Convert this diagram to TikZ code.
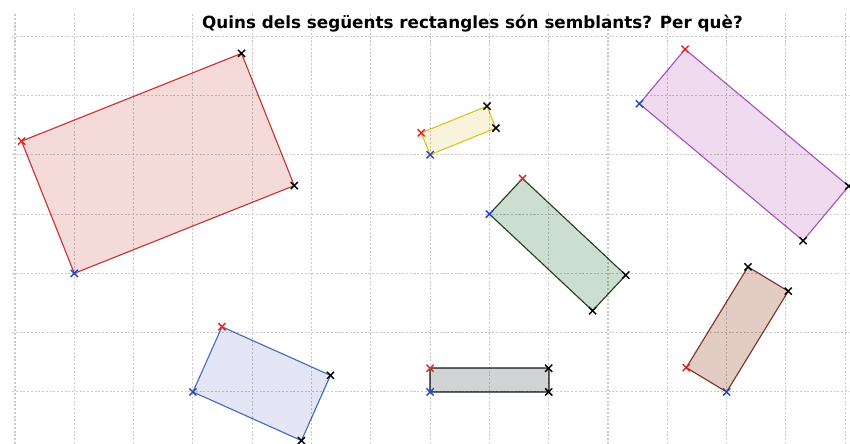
\documentclass[tikz,border=0pt]{standalone}
\usepackage{fontspec}
\newfontfamily\titlefont{DejaVu Sans}
\usetikzlibrary{positioning}

\definecolor{gridgray}{RGB}{203,203,203}
\definecolor{redline}{RGB}{205,60,60}
\definecolor{redfill}{RGB}{245,218,218}
\definecolor{yellowline}{RGB}{225,200,45}
\definecolor{yellowfill}{RGB}{250,243,220}
\definecolor{greenline}{RGB}{45,70,45}
\definecolor{greenfill}{RGB}{203,222,207}
\definecolor{purpleline}{RGB}{170,95,195}
\definecolor{purplefill}{RGB}{240,218,240}
\definecolor{blueline}{RGB}{75,115,200}
\definecolor{bluefill}{RGB}{228,230,245}
\definecolor{greyline}{RGB}{105,105,105}
\definecolor{greyfill}{RGB}{210,211,213}
\definecolor{brownline}{RGB}{135,60,50}
\definecolor{brownfill}{RGB}{226,204,195}
\definecolor{redmark}{RGB}{220,40,40}
\definecolor{bluemark}{RGB}{40,70,190}

\begin{document}
\begin{tikzpicture}[
  grid/.style={gridgray, line width=0.5pt, dash pattern=on 1pt off 0.8pt},
  side/.style={line width=0.55pt, line join=round},
  xmark/.pic={\draw[line width=0.7pt] (-0.06,-0.06) -- (0.06,0.06) (-0.06,0.06) -- (0.06,-0.06);}
]
\useasboundingbox (-0.253,-0.877) rectangle (14.081,6.610);
% grid
\foreach \x in {0,...,14}
  \draw[grid] (\x,-0.877) -- (\x,6.37);
\foreach \y in {0,...,6}
  \draw[grid] (-0.05,\y) -- (14.081,\y);
% title
\node[anchor=base, font=\titlefont\bfseries\fontsize{8.05}{9}\selectfont] (titol) at (7.715,6.13)
  {Quins dels següents rectangles són semblants? Per què?};
\begin{scope}[blend mode=multiply]
% big red
\filldraw[side, draw=redline, fill=redfill] (1,2) -- (4.71,3.48) -- (3.82,5.71) -- (0.11,4.23) -- cycle;
% yellow
\filldraw[side, draw=yellowline, fill=yellowfill] (7,4) -- (8.11,4.45) -- (7.96,4.82) -- (6.85,4.37) -- cycle;
% green
\filldraw[side, draw=greenline, fill=greenfill] (8,3) -- (9.74,1.37) -- (10.30,1.97) -- (8.56,3.60) -- cycle;
% purple
\filldraw[side, draw=purpleline, fill=purplefill] (10.53,4.86) -- (13.29,2.55) -- (14.06,3.47) -- (11.30,5.78) -- cycle;
% blue
\filldraw[side, draw=blueline, fill=bluefill] (3,0) -- (4.83,-0.82) -- (5.32,0.28) -- (3.49,1.10) -- cycle;
% grey
\filldraw[side, line width=1pt, draw=greyline, fill=greyfill] (7,0) -- (9,0) -- (9,0.4) -- (7,0.4) -- cycle;
% brown
\filldraw[side, draw=brownline, fill=brownfill] (12,0) -- (13.04,1.70) -- (12.36,2.11) -- (11.32,0.41) -- cycle;
\end{scope}
% corner marks
\foreach \p in {(1,2),(7,4),(8,3),(10.53,4.86),(3,0),(7,0),(12,0)}
  \pic[bluemark] at \p {xmark};
\foreach \p in {(0.11,4.23),(6.85,4.37),(8.56,3.60),(11.30,5.78),(3.49,1.10),(7,0.4),(11.32,0.41)}
  \pic[redmark] at \p {xmark};
\foreach \p in {(4.71,3.48),(3.82,5.71),(8.11,4.45),(7.96,4.82),(9.74,1.37),(10.30,1.97),
  (13.29,2.55),(14.06,3.47),(4.83,-0.82),(5.32,0.28),(9,0),(9,0.4),(13.04,1.70),(12.36,2.11)}
  \pic[black] at \p {xmark};
\end{tikzpicture}
\end{document}
